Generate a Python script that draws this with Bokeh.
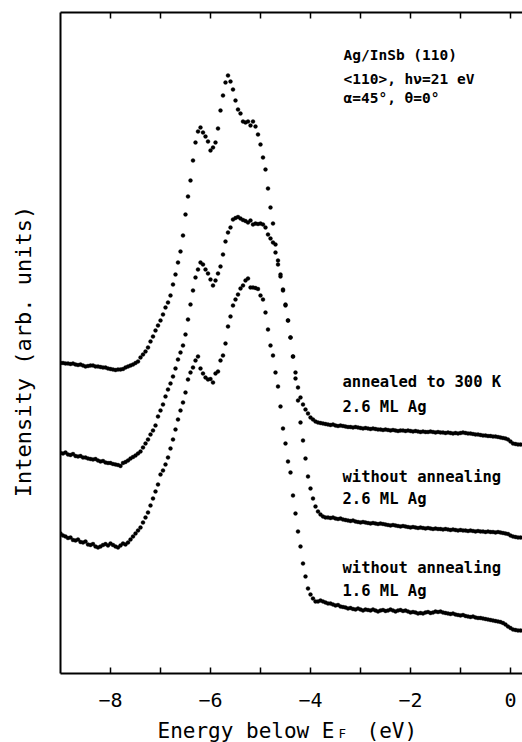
import numpy as np
from math import pi
from bokeh.plotting import figure
from bokeh.layouts import row, column
from bokeh.models import Range1d, FixedTicker, LinearAxis, Label, ColumnDataSource
from bokeh.core.properties import value
from bokeh.embed import file_html
from bokeh.resources import INLINE

# Energy grid (eV below E_F), 0.05 eV steps as in the measured spectra
energy = np.round(np.arange(185) * 0.05 - 9.0, 2)

# Intensity (arb. units)
annealed_26ml = [
    310.5, 310.5, 310, 310, 309.5, 310, 309, 308.5, 309, 308,
    307, 307.5, 308, 308, 307, 307, 306.5, 306, 306, 305,
    304.5, 304, 303.5, 304, 304, 304.5, 306, 307, 308, 309,
    310.5, 312, 316, 319, 322, 326, 332, 337, 343, 348,
    353, 359, 366, 371, 378, 389, 399, 411, 422, 438,
    459, 477, 493, 513, 531, 542, 546, 541, 537, 532,
    523, 526, 531, 545, 563, 578, 591, 598, 592, 584,
    573, 564, 560, 552, 551, 552, 548, 552, 547, 539,
    529, 516, 504, 485, 466, 450, 429, 413, 399, 384,
    369, 353, 336, 317, 301, 286, 276, 269, 264, 260,
    256, 254, 252, 251, 250.5, 250, 249.5, 249, 248.5, 249,
    248, 247.5, 248, 247.5, 247, 246.5, 246.5, 246, 246.5, 246,
    245.5, 245, 245.5, 245, 244.5, 245, 244.5, 244, 244, 243.5,
    244, 243.5, 243, 243.5, 243, 242.5, 243, 243, 242.5, 243,
    242.5, 242, 242.5, 242, 241.5, 242, 241.5, 241.5, 242, 241.5,
    241, 241.5, 241, 241, 240.5, 241, 240.5, 240, 240.5, 240,
    240.5, 241, 240.5, 240, 240, 239.5, 239, 239, 238.5, 238,
    238, 237.5, 237.5, 237, 237, 236.5, 236, 235.5, 235, 234,
    232, 230, 229.5, 229, 229,
]

unannealed_26ml = [
    220.5, 220, 221, 219, 218.5, 219.5, 217.5, 217, 217.5, 216,
    216, 215, 214.5, 214, 214.5, 213, 212, 212.5, 211, 210.5,
    210.5, 209.5, 209, 208.5, 207.5, 210.5, 211.5, 213, 215, 216.5,
    218, 220, 222, 226, 230, 234, 239, 243, 248, 257,
    263, 269, 277, 284, 290, 297, 305, 314, 321, 328,
    339, 354, 369, 383, 396, 404, 411, 409, 404, 400,
    394, 388, 393, 400, 407, 419, 432, 441, 446, 454,
    455.5, 456.5, 455, 453.5, 452.5, 451, 453, 449, 450, 449.5,
    450, 449, 446, 439, 435, 431, 421, 409, 397, 383,
    368, 353, 336, 317, 295, 273, 251, 233, 215, 197,
    185, 175, 167, 162, 159, 157, 156, 156, 155.5, 156,
    155, 154.5, 155, 154, 153.5, 153, 152.5, 153, 152, 151.5,
    151, 151.5, 151, 150.5, 150, 150.5, 150, 149.5, 150, 149.5,
    149, 148.5, 148, 148.5, 148, 147.5, 147, 147.5, 147, 146.5,
    146, 146.5, 146, 145.5, 146, 145.5, 145, 145.5, 145, 144.5,
    145, 144.5, 144.5, 144, 144.5, 144, 143.5, 144, 143.5, 143,
    143.5, 143, 143, 142.5, 143, 142.5, 142, 142.5, 142, 142,
    141.5, 142, 141.5, 141.5, 141, 141.5, 141, 140.5, 140, 139.5,
    138, 137, 136.5, 136, 136,
]

unannealed_16ml = [
    140, 138, 137, 135.5, 136, 133.5, 133, 134, 131.5, 131,
    132, 129, 128.5, 129.5, 127, 126, 127, 128.5, 129.5, 128,
    130, 128.5, 127, 126, 128, 130, 129, 131, 134, 137,
    140, 143, 146, 151, 156, 161, 168, 175, 182, 189,
    199, 203, 209, 216, 225, 234, 244, 254, 263, 271,
    281, 294, 301, 306, 313, 317, 305, 300, 296, 294,
    294.5, 291, 300, 302, 313, 318, 330, 347, 357, 368,
    374, 379, 385, 388, 393, 395, 386, 386, 385.5, 384.5,
    378, 374, 361, 344, 328, 318, 301, 287, 267, 245,
    230, 212, 201, 178, 160, 142, 127, 110, 97, 85,
    79, 75, 72, 72, 73, 72, 71, 70, 70, 69,
    68, 68.5, 67, 66.5, 66, 65, 65.5, 64.5, 64, 65,
    64, 63, 64, 63.5, 63, 64, 63, 62, 63, 63.5,
    62.5, 63, 64, 63, 62, 63, 63.5, 62.5, 63, 62,
    61, 61.5, 61, 60, 60.5, 60, 61, 61.5, 60.5, 61,
    62, 61.5, 62, 61, 60.5, 60, 59.5, 60, 59, 58.5,
    58, 58.5, 57.5, 57, 56.5, 57, 56, 55.5, 55.5, 55,
    54.5, 54, 53.5, 53, 52.5, 52, 51.5, 50.5, 49, 47,
    45.5, 44, 43.5, 43, 43,
]

major_ticks = [-8, -6, -4, -2, 0]
minor_ticks = [-7, -5, -3, -1]
top_ticks = [-8, -7, -6, -5, -4, -3, -2, -1, 0]
tick_labels = {-8: "\u22128", -6: "\u22126", -4: "\u22124", -2: "\u22122", 0: "0"}

curve_labels = [
    ("annealed to 300 K", 292.0), ("2.6 ML Ag", 266.5),
    ("without annealing", 197.0), ("2.6 ML Ag", 175.0),
    ("without annealing", 105.5), ("1.6 ML Ag", 83.0),
]
info_lines = [
    ("Ag/InSb (110)", 618.5),
    ("<110>,  h\u03bd=21 eV", 595.0),
    ("\u03b1=45\u00b0,  \u03b8=0\u00b0", 575.5),
]

FONT = "DejaVu Sans Mono"


def bare(fig):
    fig.outline_line_color = None
    fig.background_fill_color = "white"
    fig.border_fill_color = "white"
    fig.xgrid.visible = False
    fig.ygrid.visible = False


# ---- main plot -------------------------------------------------------------
p = figure(width=482, height=712, output_backend="svg", toolbar_location=None,
           x_range=Range1d(-9.0, 0.24), y_range=Range1d(0, 661),
           min_border_left=20, min_border_right=0, min_border_top=12,
           min_border_bottom=39, x_axis_location=None, y_axis_location=None)
bare(p)

xb = LinearAxis(ticker=FixedTicker(ticks=major_ticks, minor_ticks=minor_ticks))
xb.major_label_overrides = tick_labels
xb.major_tick_in = 6
xb.major_tick_out = 0
xb.minor_tick_in = 6
xb.minor_tick_out = 0
xb.major_tick_line_width = 1.5
xb.minor_tick_line_width = 1.5
xb.axis_line_width = 2
xb.major_label_text_font = FONT
xb.major_label_text_font_size = "20px"
xb.major_label_text_color = "black"
xb.major_label_standoff = 19
p.add_layout(xb, "below")

xt = LinearAxis(ticker=FixedTicker(ticks=[], minor_ticks=top_ticks))
xt.minor_tick_in = 6
xt.minor_tick_out = 0
xt.minor_tick_line_width = 1.5
xt.axis_line_width = 2
p.add_layout(xt, "above")

yl = LinearAxis(ticker=FixedTicker(ticks=[], minor_ticks=[]))
yl.axis_line_width = 2
p.add_layout(yl, "left")

for vals in (annealed_26ml, unannealed_26ml, unannealed_16ml):
    src = ColumnDataSource(dict(e=energy, i=vals))
    p.scatter("e", "i", source=src, marker="circle", size=4.0,
              fill_color="black", line_color="black", line_width=0.3)

for txt, yy in curve_labels:
    p.add_layout(Label(x=-3.36, y=yy, text=txt, text_font=FONT,
                       text_font_size="15.5px", text_color="black",
                       text_font_style="bold", text_baseline="alphabetic"))
for txt, yy in info_lines:
    p.add_layout(Label(x=-3.34, y=yy, text=txt, text_font=FONT,
                       text_font_size="14.5px", text_color="black",
                       text_font_style="bold", text_baseline="alphabetic"))

# ---- x-axis title strip: shares the energy scale of the main plot ----------
xl = figure(width=482, height=30, output_backend="svg", toolbar_location=None,
            x_range=p.x_range, y_range=Range1d(742, 712),
            min_border_left=20, min_border_right=0, min_border_top=0,
            min_border_bottom=0, x_axis_location=None, y_axis_location=None)
bare(xl)
big = dict(text_font=value(FONT), text_font_size="21px", text_color="black",
           text_baseline="alphabetic")
xl.text(x=[-7.06], y=[730], text=["Energy below E"], **big)
xl.text(x=[-3.44], y=[733], text=["F"], text_font=value(FONT), text_font_size="12.5px",
        text_color="black", text_baseline="alphabetic")
xl.text(x=[-2.88], y=[730], text=["(eV)"], **big)

# ---- y-axis title strip ----------------------------------------------------
yt = figure(width=40, height=742, output_backend="svg", toolbar_location=None,
            x_range=Range1d(0, 40), y_range=Range1d(742, 0),
            min_border=0, x_axis_location=None, y_axis_location=None)
bare(yt)
yt.text(x=[23], y=[351], text=["Intensity (arb. units)"], angle=pi / 2,
        text_font=value(FONT), text_font_size="22px", text_color="black",
        text_align="center", text_baseline="middle")

layout = row(yt, column(p, xl))
open("out.html", "w").write(file_html(layout, INLINE))
